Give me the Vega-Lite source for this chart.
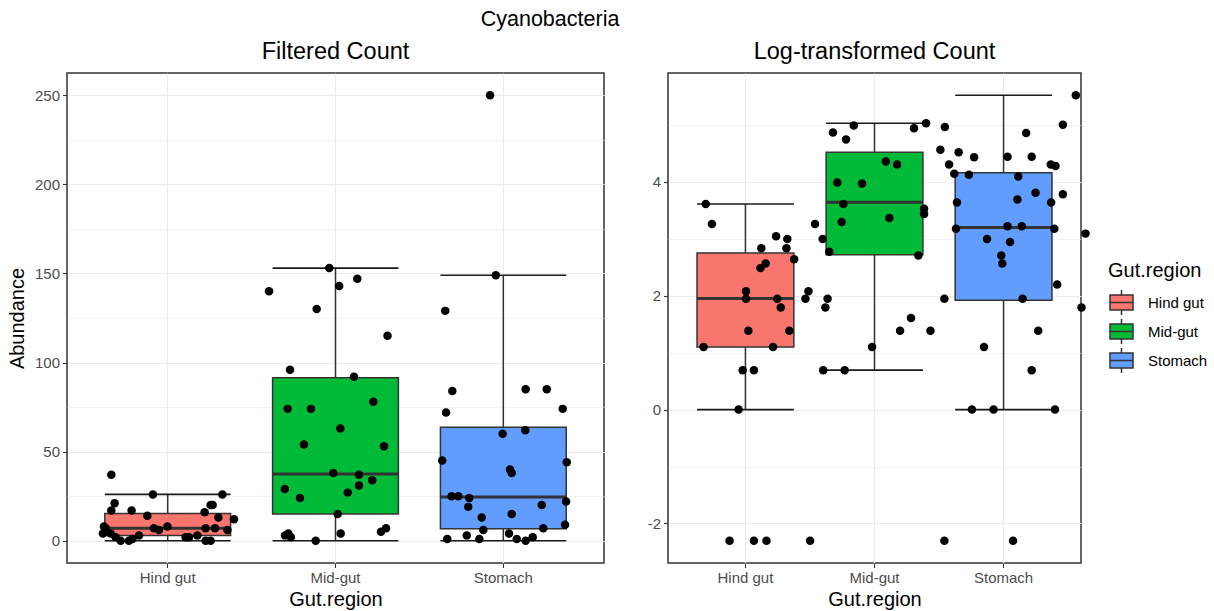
{
  "$schema": "https://vega.github.io/schema/vega-lite/v6.json",
  "padding": {"left": 6, "top": 9, "right": 0, "bottom": 0},
  "title": {"text": "Cyanobacteria", "fontSize": 21.5, "fontWeight": "normal", "color": "#000000", "anchor": "start", "frame": "bounds", "dx": 474, "offset": 8},
  "datasets": {
    "box": [
      {"r": "Hind gut", "fl": 0, "fq1": 3, "fmed": 7, "fq3": 15.25, "fu": 26, "ll": 0, "lq1": 1.1, "lmed": 1.95, "lq3": 2.75, "lu": 3.611},
      {"r": "Mid-gut", "fl": 0, "fq1": 15, "fmed": 37.5, "fq3": 91.5, "fu": 153, "ll": 0.693, "lq1": 2.72, "lmed": 3.64, "lq3": 4.52, "lu": 5.03},
      {"r": "Stomach", "fl": 0, "fq1": 6.75, "fmed": 24.5, "fq3": 63.75, "fu": 149, "ll": 0, "lq1": 1.92, "lmed": 3.2, "lq3": 4.16, "lu": 5.521}
    ],
    "pts": [
      {"r": "Hind gut", "a": 37, "la": 3.611, "jf": -0.336, "jl": -0.352},
      {"r": "Hind gut", "a": 26, "la": 3.258, "jf": -0.088, "jl": -0.315},
      {"r": "Hind gut", "a": 26, "la": 3.258, "jf": 0.326, "jl": 0.299},
      {"r": "Hind gut", "a": 21, "la": 3.045, "jf": -0.316, "jl": 0.067},
      {"r": "Hind gut", "a": 20, "la": 2.996, "jf": 0.256, "jl": 0.134},
      {"r": "Hind gut", "a": 20, "la": 2.996, "jf": 0.268, "jl": 0.345},
      {"r": "Hind gut", "a": 17, "la": 2.833, "jf": -0.336, "jl": -0.021},
      {"r": "Hind gut", "a": 17, "la": 2.833, "jf": -0.215, "jl": 0.129},
      {"r": "Hind gut", "a": 16, "la": 2.773, "jf": 0.22, "jl": 0.384},
      {"r": "Hind gut", "a": 14, "la": 2.639, "jf": -0.121, "jl": 0.175},
      {"r": "Hind gut", "a": 13, "la": 2.565, "jf": 0.302, "jl": 0.005},
      {"r": "Hind gut", "a": 12, "la": 2.485, "jf": 0.395, "jl": -0.026},
      {"r": "Hind gut", "a": 8, "la": 2.079, "jf": -0.38, "jl": -0.112},
      {"r": "Hind gut", "a": 8, "la": 2.079, "jf": -0.002, "jl": 0.26},
      {"r": "Hind gut", "a": 7, "la": 1.946, "jf": -0.369, "jl": -0.112},
      {"r": "Hind gut", "a": 7, "la": 1.946, "jf": -0.082, "jl": 0.074},
      {"r": "Hind gut", "a": 7, "la": 1.946, "jf": 0.226, "jl": 0.242},
      {"r": "Hind gut", "a": 7, "la": 1.946, "jf": 0.282, "jl": 0.374},
      {"r": "Hind gut", "a": 6, "la": 1.792, "jf": -0.052, "jl": 0.095},
      {"r": "Hind gut", "a": 6, "la": 1.792, "jf": 0.356, "jl": 0.361},
      {"r": "Hind gut", "a": 4, "la": 1.386, "jf": -0.386, "jl": -0.098},
      {"r": "Hind gut", "a": 4, "la": 1.386, "jf": -0.34, "jl": 0.146},
      {"r": "Hind gut", "a": 3, "la": 1.099, "jf": -0.171, "jl": -0.365},
      {"r": "Hind gut", "a": 3, "la": 1.099, "jf": 0.177, "jl": 0.049},
      {"r": "Hind gut", "a": 2, "la": 0.693, "jf": 0.107, "jl": -0.132},
      {"r": "Hind gut", "a": 2, "la": 0.693, "jf": -0.31, "jl": -0.065},
      {"r": "Hind gut", "a": 2, "la": 0.693, "jf": 0.127, "jl": 0.348},
      {"r": "Hind gut", "a": 1, "la": 0, "jf": -0.21, "jl": -0.156},
      {"r": "Hind gut", "a": 0, "la": -2.303, "jf": -0.28, "jl": -0.21},
      {"r": "Hind gut", "a": 0, "la": -2.303, "jf": -0.231, "jl": -0.065},
      {"r": "Hind gut", "a": 0, "la": -2.303, "jf": 0.226, "jl": 0.01},
      {"r": "Hind gut", "a": 0, "la": -2.303, "jf": 0.256, "jl": 0.27},
      {"r": "Mid-gut", "a": 153, "la": 5.03, "jf": -0.037, "jl": 0.192},
      {"r": "Mid-gut", "a": 147, "la": 4.99, "jf": 0.13, "jl": -0.239},
      {"r": "Mid-gut", "a": 143, "la": 4.963, "jf": 0.022, "jl": 0.304},
      {"r": "Mid-gut", "a": 140, "la": 4.942, "jf": -0.396, "jl": 0.12},
      {"r": "Mid-gut", "a": 130, "la": 4.868, "jf": -0.112, "jl": -0.363},
      {"r": "Mid-gut", "a": 115, "la": 4.745, "jf": 0.31, "jl": -0.285},
      {"r": "Mid-gut", "a": 96, "la": 4.564, "jf": -0.271, "jl": 0.277},
      {"r": "Mid-gut", "a": 92, "la": 4.522, "jf": 0.11, "jl": 0.386},
      {"r": "Mid-gut", "a": 78, "la": 4.357, "jf": 0.225, "jl": -0.048},
      {"r": "Mid-gut", "a": 74, "la": 4.304, "jf": -0.285, "jl": 0.019},
      {"r": "Mid-gut", "a": 74, "la": 4.304, "jf": -0.146, "jl": 0.329},
      {"r": "Mid-gut", "a": 63, "la": 4.143, "jf": 0.029, "jl": 0.36},
      {"r": "Mid-gut", "a": 54, "la": 3.989, "jf": -0.188, "jl": -0.337},
      {"r": "Mid-gut", "a": 53, "la": 3.97, "jf": 0.289, "jl": -0.19},
      {"r": "Mid-gut", "a": 38, "la": 3.638, "jf": -0.013, "jl": 0.376},
      {"r": "Mid-gut", "a": 37, "la": 3.611, "jf": 0.14, "jl": -0.301},
      {"r": "Mid-gut", "a": 34, "la": 3.526, "jf": 0.219, "jl": 0.18},
      {"r": "Mid-gut", "a": 31, "la": 3.434, "jf": 0.14, "jl": 0.18},
      {"r": "Mid-gut", "a": 29, "la": 3.367, "jf": -0.302, "jl": -0.027},
      {"r": "Mid-gut", "a": 27, "la": 3.296, "jf": 0.073, "jl": -0.311},
      {"r": "Mid-gut", "a": 24, "la": 3.178, "jf": -0.212, "jl": 0.37},
      {"r": "Mid-gut", "a": 15, "la": 2.708, "jf": 0.013, "jl": 0.146},
      {"r": "Mid-gut", "a": 7, "la": 1.946, "jf": 0.301, "jl": 0.301},
      {"r": "Mid-gut", "a": 5, "la": 1.609, "jf": 0.271, "jl": 0.102},
      {"r": "Mid-gut", "a": 4, "la": 1.386, "jf": -0.281, "jl": 0.037},
      {"r": "Mid-gut", "a": 4, "la": 1.386, "jf": 0.031, "jl": 0.218},
      {"r": "Mid-gut", "a": 3, "la": 1.099, "jf": -0.301, "jl": -0.13},
      {"r": "Mid-gut", "a": 2, "la": 0.693, "jf": -0.266, "jl": -0.293},
      {"r": "Mid-gut", "a": 0, "la": -2.303, "jf": -0.118, "jl": 0.301},
      {"r": "Stomach", "a": 250, "la": 5.521, "jf": -0.079, "jl": 0.315},
      {"r": "Stomach", "a": 149, "la": 5.004, "jf": -0.045, "jl": 0.238},
      {"r": "Stomach", "a": 129, "la": 4.86, "jf": -0.346, "jl": 0.019},
      {"r": "Stomach", "a": 85, "la": 4.443, "jf": 0.133, "jl": -0.092},
      {"r": "Stomach", "a": 85, "la": 4.443, "jf": 0.259, "jl": 0.052},
      {"r": "Stomach", "a": 84, "la": 4.431, "jf": -0.304, "jl": -0.291},
      {"r": "Stomach", "a": 74, "la": 4.304, "jf": 0.354, "jl": 0.166},
      {"r": "Stomach", "a": 72, "la": 4.277, "jf": -0.341, "jl": 0.194},
      {"r": "Stomach", "a": 62, "la": 4.127, "jf": 0.131, "jl": -0.322},
      {"r": "Stomach", "a": 60, "la": 4.094, "jf": -0.004, "jl": -0.028},
      {"r": "Stomach", "a": 45, "la": 3.807, "jf": -0.364, "jl": 0.075},
      {"r": "Stomach", "a": 44, "la": 3.784, "jf": 0.378, "jl": 0.238},
      {"r": "Stomach", "a": 40, "la": 3.689, "jf": 0.04, "jl": -0.033},
      {"r": "Stomach", "a": 38, "la": 3.638, "jf": 0.05, "jl": 0.168},
      {"r": "Stomach", "a": 25, "la": 3.219, "jf": -0.308, "jl": -0.092},
      {"r": "Stomach", "a": 25, "la": 3.219, "jf": -0.268, "jl": -0.007},
      {"r": "Stomach", "a": 24, "la": 3.178, "jf": -0.203, "jl": 0.187},
      {"r": "Stomach", "a": 22, "la": 3.091, "jf": 0.374, "jl": 0.373},
      {"r": "Stomach", "a": 20, "la": 2.996, "jf": 0.229, "jl": -0.214},
      {"r": "Stomach", "a": 19, "la": 2.944, "jf": -0.209, "jl": -0.077},
      {"r": "Stomach", "a": 15, "la": 2.708, "jf": 0.05, "jl": -0.129},
      {"r": "Stomach", "a": 13, "la": 2.565, "jf": -0.129, "jl": -0.123},
      {"r": "Stomach", "a": 9, "la": 2.197, "jf": 0.368, "jl": 0.204},
      {"r": "Stomach", "a": 7, "la": 1.946, "jf": 0.238, "jl": -0.002},
      {"r": "Stomach", "a": 6, "la": 1.792, "jf": -0.119, "jl": 0.349},
      {"r": "Stomach", "a": 4, "la": 1.386, "jf": 0.034, "jl": 0.091},
      {"r": "Stomach", "a": 3, "la": 1.099, "jf": -0.218, "jl": -0.232},
      {"r": "Stomach", "a": 2, "la": 0.693, "jf": 0.175, "jl": 0.052},
      {"r": "Stomach", "a": 1, "la": 0, "jf": -0.334, "jl": -0.304},
      {"r": "Stomach", "a": 1, "la": 0, "jf": -0.143, "jl": -0.175},
      {"r": "Stomach", "a": 1, "la": 0, "jf": 0.08, "jl": 0.191},
      {"r": "Stomach", "a": 0, "la": -2.303, "jf": 0.133, "jl": -0.059}
    ]
  },
  "spacing": 41,
  "resolve": {"scale": {"fill": "independent", "y": "independent", "x": "independent"}},
  "hconcat": [
    {
      "width": 537,
      "height": 490,
      "title": {"text": "Filtered Count", "fontSize": 23.5, "fontWeight": "normal", "color": "#000000", "offset": 10},
      "encoding": {
        "x": {"field": "r", "type": "nominal", "title": "Gut.region",
          "scale": {"type": "band", "domain": ["Hind gut", "Mid-gut", "Stomach"], "paddingInner": 0, "paddingOuter": 0.1},
          "axis": {"labelAngle": 0, "bandPosition": 0.5, "grid": true, "gridWidth": 1.2, "titlePadding": 4}}
      },
      "layer": [
        {
          "data": {"name": "box"},
          "mark": {"type": "rule", "color": "#333333", "strokeWidth": 1.5},
          "encoding": {
            "y": {"field": "fl", "type": "quantitative", "title": "Abundance",
              "scale": {"domain": [-12.5, 262.5], "nice": false, "zero": false},
              "axis": {"values": [0, 25, 50, 75, 100, 125, 150, 175, 200, 225, 250],
                "labelExpr": "datum.value % 50 === 0 ? datum.label : ''",
                "tickOpacity": {"condition": {"test": "datum.value % 50 !== 0", "value": 0}, "value": 1},
                "gridWidth": {"condition": {"test": "datum.value % 50 !== 0", "value": 0.6}, "value": 1.2},
                "grid": true, "titlePadding": 7}},
            "y2": {"field": "fu"}
          }
        },
        {
          "data": {"name": "box"},
          "mark": {"type": "tick", "color": "#1a1a1a", "opacity": 1, "thickness": 1.6, "size": 125.8},
          "encoding": {"y": {"field": "fl", "type": "quantitative"}}
        },
        {
          "data": {"name": "box"},
          "mark": {"type": "tick", "color": "#1a1a1a", "opacity": 1, "thickness": 1.6, "size": 125.8},
          "encoding": {"y": {"field": "fu", "type": "quantitative"}}
        },
        {
          "data": {"name": "box"},
          "mark": {"type": "bar", "width": 125.8, "stroke": "#333333", "strokeWidth": 1.5, "opacity": 1},
          "encoding": {
            "y": {"field": "fq1", "type": "quantitative"},
            "y2": {"field": "fq3"},
            "fill": {"field": "r", "type": "nominal", "scale": {"domain": ["Hind gut", "Mid-gut", "Stomach"], "range": ["#F8766D", "#00BA38", "#619CFF"]}, "legend": null}
          }
        },
        {
          "data": {"name": "box"},
          "mark": {"type": "tick", "color": "#333333", "opacity": 1, "thickness": 3, "size": 125.8},
          "encoding": {"y": {"field": "fmed", "type": "quantitative"}}
        },
        {
          "data": {"name": "pts"},
          "mark": {"type": "point", "filled": true, "color": "#000000", "opacity": 1, "size": 72},
          "encoding": {
            "y": {"field": "a", "type": "quantitative"},
            "xOffset": {"field": "jf", "type": "quantitative", "scale": {"domain": [-0.5, 0.5]}}
          }
        }
      ]
    },
    {
      "width": 413,
      "height": 490,
      "title": {"text": "Log-transformed Count", "fontSize": 23.5, "fontWeight": "normal", "color": "#000000", "offset": 10},
      "encoding": {
        "x": {"field": "r", "type": "nominal", "title": "Gut.region",
          "scale": {"type": "band", "domain": ["Hind gut", "Mid-gut", "Stomach"], "paddingInner": 0, "paddingOuter": 0.1},
          "axis": {"labelAngle": 0, "bandPosition": 0.5, "grid": true, "gridWidth": 1.2, "titlePadding": 4}}
      },
      "layer": [
        {
          "data": {"name": "box"},
          "mark": {"type": "rule", "color": "#333333", "strokeWidth": 1.5},
          "encoding": {
            "y": {"field": "ll", "type": "quantitative", "title": null,
              "scale": {"domain": [-2.694, 5.912], "nice": false, "zero": false},
              "axis": {"values": [-2, -1, 0, 1, 2, 3, 4, 5],
                "labelExpr": "datum.value % 2 === 0 ? toString(datum.value) : ''",
                "tickOpacity": {"condition": {"test": "datum.value % 2 !== 0", "value": 0}, "value": 1},
                "gridWidth": {"condition": {"test": "datum.value % 2 !== 0", "value": 0.6}, "value": 1.2},
                "grid": true}},
            "y2": {"field": "lu"}
          }
        },
        {
          "data": {"name": "box"},
          "mark": {"type": "tick", "color": "#1a1a1a", "opacity": 1, "thickness": 1.6, "size": 96.8},
          "encoding": {"y": {"field": "ll", "type": "quantitative"}}
        },
        {
          "data": {"name": "box"},
          "mark": {"type": "tick", "color": "#1a1a1a", "opacity": 1, "thickness": 1.6, "size": 96.8},
          "encoding": {"y": {"field": "lu", "type": "quantitative"}}
        },
        {
          "data": {"name": "box"},
          "mark": {"type": "bar", "width": 96.8, "stroke": "#333333", "strokeWidth": 1.5, "opacity": 1},
          "encoding": {
            "y": {"field": "lq1", "type": "quantitative"},
            "y2": {"field": "lq3"},
            "fill": {"field": "r", "type": "nominal", "scale": {"domain": ["Hind gut", "Mid-gut", "Stomach"], "range": ["#F8766D", "#00BA38", "#619CFF"]},
              "legend": {"title": "Gut.region", "orient": "none", "legendX": 440, "legendY": 188,
                "symbolType": "M-0.92,-0.6H0.92V0.6H-0.92Z M-0.92,0H0.92 M0,-0.6V-1 M0,0.6V1",
                "symbolSize": 625, "symbolStrokeColor": "#333333", "symbolStrokeWidth": 1.5, "symbolOpacity": 1,
                "titleFontSize": 20, "titleFontWeight": "normal", "titleColor": "#000000", "titlePadding": 8,
                "labelFontSize": 15, "labelColor": "#000000", "labelOffset": 13, "rowPadding": -2}}
          }
        },
        {
          "data": {"name": "box"},
          "mark": {"type": "tick", "color": "#333333", "opacity": 1, "thickness": 3, "size": 96.8},
          "encoding": {"y": {"field": "lmed", "type": "quantitative"}}
        },
        {
          "data": {"name": "pts"},
          "mark": {"type": "point", "filled": true, "color": "#000000", "opacity": 1, "size": 72},
          "encoding": {
            "y": {"field": "la", "type": "quantitative"},
            "xOffset": {"field": "jl", "type": "quantitative", "scale": {"domain": [-0.5, 0.5]}}
          }
        }
      ]
    }
  ],
  "config": {
    "font": "Liberation Sans",
    "view": {"stroke": "#333333", "strokeWidth": 1.5},
    "axis": {"domain": false, "tickColor": "#333333", "tickSize": 4.5, "tickWidth": 1.1, "labelColor": "#4D4D4D", "labelFontSize": 15, "labelPadding": 3,
      "titleFontSize": 20, "titleFontWeight": "normal", "titleColor": "#000000", "gridColor": "#EBEBEB"},
    "legend": {"labelFont": "Liberation Sans", "titleFont": "Liberation Sans"}
  }
}
